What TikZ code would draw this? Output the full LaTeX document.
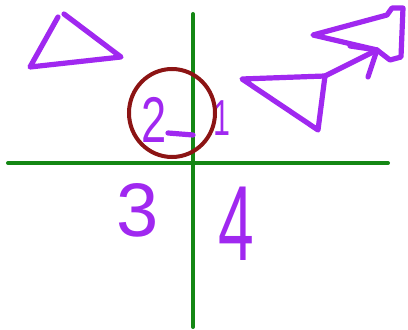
\documentclass[tikz,border=0pt]{standalone}
\usepackage{fontspec}
\setmainfont{Liberation Sans}
\usetikzlibrary{arrows.meta}
\definecolor{leaf}{RGB}{20,135,20}
\definecolor{grapeink}{RGB}{160,40,240}
\definecolor{wine}{RGB}{140,20,20}
\tikzset{
  axis/.style={draw=leaf,line width=1mm,line cap=round},
  ink/.style={draw=grapeink,line width=1.3mm,line cap=round,line join=round},
  digit/.style={text=grapeink,inner sep=0pt,font=\fontsize{#1}{#1}\selectfont},
  ring/.style={draw=wine,line width=1mm},
}
\begin{document}
\begin{tikzpicture}[x=0.25mm,y=-0.25mm]
  \useasboundingbox (0,0) rectangle (408,330);
  % axes
  \coordinate (north) at (193,14);
  \coordinate (south) at (193,327);
  \coordinate (west) at (8,163);
  \coordinate (east) at (388,163);
  \draw[axis] (north) -- (south);
  \draw[axis] (west) -- (east);
  % triangles
  \draw[ink] (58,17) -- (30,67) -- (121,57) -- (64,14);
  \draw[ink] (242,79) -- (318,130) -- (325,76) -- cycle;
  \draw[ink] (313,35) -- (387,15) -- (392,8) -- (403,8) -- (401,57) -- (390,60) -- (377,50) -- cycle;
  % arrow
  \coordinate (tail) at (325,76);
  \coordinate (tip) at (377,50);
  \draw[ink] (tail) -- (tip);
  \draw[ink] (350,46) -- (tip) -- (368,77);
  % quadrant numbers
  \node[digit=46pt,xscale=0.7,transform shape] (two) at (154,120) {2};
  \node[digit=36pt,xscale=0.6,transform shape] (one) at (222,118) {1};
  \node[digit=54pt] (three) at (138,210) {3};
  \node[digit=76pt,xscale=0.6,transform shape] (four) at (236,224) {4};
  \draw[ink] (168,133) -- (193,135);
  \draw[ring] (172,113) ellipse (10.75mm and 11mm);
\end{tikzpicture}
\end{document}
